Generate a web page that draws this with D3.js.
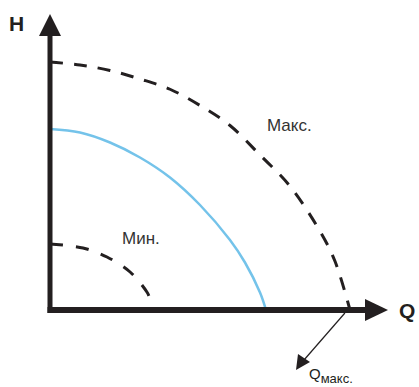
<!DOCTYPE html>
<html>
<head>
<meta charset="utf-8">
<script src="https://cdn.jsdelivr.net/npm/d3@7"></script>
<style>
  html, body { margin: 0; padding: 0; background: #fff; }
  svg { display: block; }
  text { font-family: Arial, "Liberation Sans", sans-serif; }
</style>
</head>
<body>
<div id="viz"></div>
<script>
// Pump curves: H against Q (Q and H in % of max)
const maxQ = [0, 10, 20, 30, 40, 50, 60, 70, 80, 90, 95, 100];
const maxH = [99.2, 98, 95.8, 92.4, 88.3, 81.8, 73.8, 62, 49.5, 31.5, 19.5, 0];

const curQ = [0, 10, 20, 30, 40, 50, 60, 65, 70, 72];
const curH = [72.4, 71, 67, 61, 53, 42, 28, 19, 7, 0];

const minQ = [0, 11, 19, 26.7, 32.3, 33.2];
const minH = [26.4, 24.8, 21.2, 15.2, 7.2, 5];

const labels = { h: "H", q: "Q", max: "Макс.", min: "Мин.", qmax: "Q", qmaxSub: "макс." };

const width = 419, height = 387;
const ink = "#231f20";

const svg = d3.select("#viz").append("svg")
    .attr("width", width)
    .attr("height", height);

// 1. Scales
const x = d3.scaleLinear().domain([0, 100]).range([50, 350]);
const y = d3.scaleLinear().domain([0, 100]).range([310, 60]);

const line = d3.line()
    .x(d => x(d[0]))
    .y(d => y(d[1]))
    .curve(d3.curveCatmullRom);

// 2. Curves
svg.append("path")
    .datum(d3.zip(curQ, curH))
    .attr("d", line)
    .attr("fill", "none")
    .attr("stroke", "#74c3ea")
    .attr("stroke-width", 2.5);

[[d3.zip(maxQ, maxH), "13,11"], [d3.zip(minQ, minH), "13,13"]].forEach(([pts, dash]) => {
    svg.append("path")
        .datum(pts)
        .attr("d", line)
        .attr("fill", "none")
        .attr("stroke", ink)
        .attr("stroke-width", 3)
        .attr("stroke-dasharray", dash);
});

// 3. Axes with arrowheads
const x0 = x(0), y0 = y(0);
svg.append("line")
    .attr("x1", x0).attr("y1", y0 + 3)
    .attr("x2", x0).attr("y2", 34)
    .attr("stroke", ink).attr("stroke-width", 5);
svg.append("line")
    .attr("x1", x0 - 2.5).attr("y1", y0)
    .attr("x2", 367).attr("y2", y0)
    .attr("stroke", ink).attr("stroke-width", 6);

svg.append("path")
    .attr("d", `M${x0},14 L${x0 + 11},36 L${x0 - 11},36 Z`)
    .attr("fill", ink);
svg.append("path")
    .attr("d", `M388,${y0} L365,${y0 - 11} L365,${y0 + 11} Z`)
    .attr("fill", ink);

svg.append("text")
    .attr("x", 9).attr("y", 31)
    .attr("font-size", 21).attr("font-weight", "bold")
    .attr("fill", ink)
    .text(labels.h);
svg.append("text")
    .attr("x", 399).attr("y", y0 + 8)
    .attr("font-size", 21).attr("font-weight", "bold")
    .attr("fill", ink)
    .text(labels.q);

// 4. Curve labels
svg.append("text")
    .attr("x", 267).attr("y", 131)
    .attr("font-size", 17)
    .attr("fill", "#333")
    .text(labels.max);
svg.append("text")
    .attr("x", 122).attr("y", 244)
    .attr("font-size", 17)
    .attr("fill", "#333")
    .text(labels.min);

// 5. Q max pointer
const qx = x(98.3);
svg.append("line")
    .attr("x1", qx).attr("y1", y0 + 3)
    .attr("x2", 304).attr("y2", 360)
    .attr("stroke", ink).attr("stroke-width", 1.2);
svg.append("path")
    .attr("d", "M296,370 L298,354 L310,362 Z")
    .attr("fill", ink);

const qt = svg.append("text")
    .attr("x", 309).attr("y", 379)
    .attr("font-size", 15)
    .attr("fill", ink);
qt.append("tspan").text(labels.qmax);
qt.append("tspan")
    .attr("font-size", 13)
    .attr("dy", 4)
    .text(labels.qmaxSub);
</script>
</body>
</html>
